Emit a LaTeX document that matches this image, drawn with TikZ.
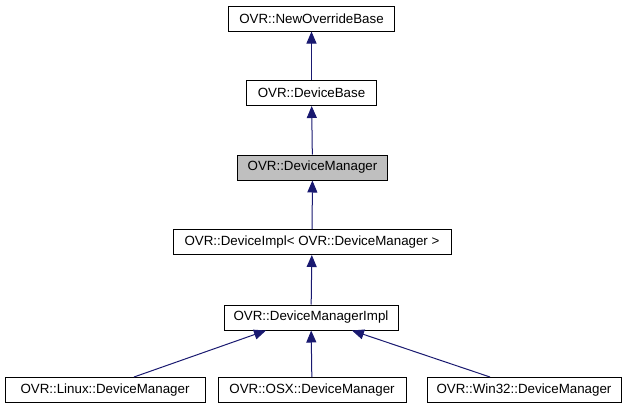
\documentclass[tikz,border=0pt]{standalone}
\usepackage{fontspec}
\setmainfont{Liberation Sans}
\usetikzlibrary{arrows.meta,calc}
\definecolor{edgeblue}{HTML}{191970}
\begin{document}
\begin{tikzpicture}[x=0.75pt,y=-0.75pt]
% Styles
\tikzstyle{class box}=[draw=black,line width=0.75pt,fill=white,minimum height=18.75pt,inner sep=0pt,font=\fontsize{10}{12}\selectfont]
\tikzstyle{inherit}=[draw=edgeblue,line width=0.75pt,-{Triangle[width=7.5pt,length=9pt]}]

\useasboundingbox (0,0) rectangle (629,411);

% draw the nodes
\node[class box,minimum width=124pt] (newbase) at (311.5,18.5) {OVR::NewOverrideBase};
\node[class box,minimum width=97pt] (devbase) at (311.5,93) {OVR::DeviceBase};
\node[class box,minimum width=113pt,fill=black!25] (devmgr) at (312.5,167.5) {OVR::DeviceManager};
\node[class box,minimum width=208.5pt] (devimpl) at (312,242) {OVR::DeviceImpl\textless{} OVR::DeviceManager \textgreater};
\node[class box,minimum width=130.5pt] (mgrimpl) at (311,317.5) {OVR::DeviceManagerImpl};
\node[class box,minimum width=150pt] (linux) at (105,390) {OVR::Linux::DeviceManager};
\node[class box,minimum width=141pt] (osx) at (312,390) {OVR::OSX::DeviceManager};
\node[class box,minimum width=145.5pt] (win) at (524,390) {OVR::Win32::DeviceManager};

% inheritance
\draw[inherit] (devbase) -- (newbase);
\draw[inherit] (devmgr) -- (devbase);
\draw[inherit] (devimpl) -- (devmgr);
\draw[inherit] (mgrimpl) -- (devimpl);
\draw[inherit] ($(linux.north)+(29,0)$) -- ($(mgrimpl.south)+(-45,0)$);
\draw[inherit] (osx) -- (mgrimpl);
\draw[inherit] ($(win.north)+(-34,0)$) -- ($(mgrimpl.south)+(41,0)$);

\end{tikzpicture}
\end{document}
